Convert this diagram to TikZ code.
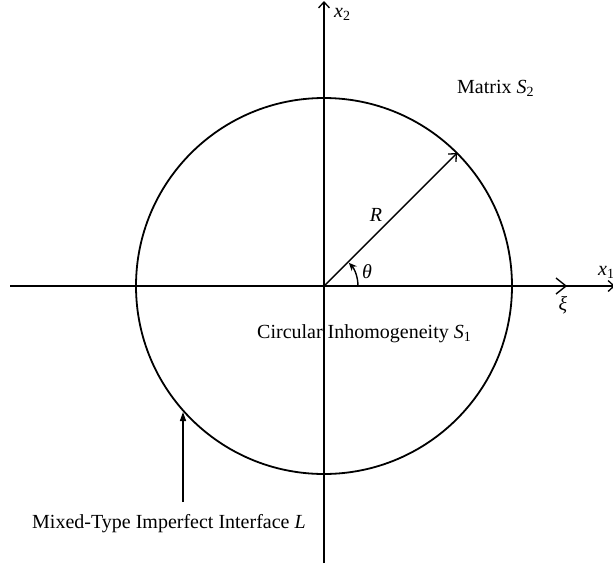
\documentclass[tikz,border=0pt]{standalone}
\usepackage{fontspec}
\setmainfont{Liberation Serif}
\usetikzlibrary{arrows.meta,calc}
\tikzset{
  axis/.style={line width=1.4pt,-{Straight Barb[length=6pt,width=11pt,line width=1.3pt]}},
  lbl/.style={font=\fontsize{20}{24}\selectfont, inner sep=0pt},
  leader/.style={line width=1.4pt,-{Triangle[length=9pt,width=6pt]}},
}
\begin{document}
\begin{tikzpicture}[x=1pt,y=-1pt]
\useasboundingbox (0,0) rectangle (613,566);
\fill[white] (0,0) rectangle (613,566);
\coordinate (O) at (324,286);
\coordinate (W) at (10,286);
\coordinate (E) at (615,286);
\coordinate (S) at (324,563);
\coordinate (N) at (324,1);
\draw[axis] (W) -- (E);
\draw[axis] (S) -- (N);
\node[draw,circle,line width=1.8pt,minimum size=376pt,inner sep=0pt] (C) at (O) {};
% radius R
\coordinate (Rt) at (457,153);
\draw[line width=1.4pt,-{Straight Barb[length=6pt,width=11pt,line width=1.3pt]}] (O) -- (Rt);
% theta arc
\draw[line width=1.4pt,-{Stealth[length=8pt,width=7pt]}] (358,286) arc[start angle=0,end angle=-43,radius=34];
% xi tick
\coordinate (Xi) at (566,286);
\draw[line width=1.4pt] ($(Xi)+(-10,-8)$) -- (Xi) -- ($(Xi)+(-10,8)$);
% leader
\coordinate (Lb) at (183,502);
\coordinate (Lt) at (183,412);
\draw[leader] (Lb) -- (Lt);
% labels
\node[lbl,anchor=base west] (x2) at (334,17) {\textit{x}\textsubscript{2}};
\node[lbl,anchor=base west] (x1) at (598,275) {\textit{x}\textsubscript{1}};
\node[lbl] (xil) at (563,305) {\textit{ξ}};
\node[lbl] (th) at (367,272) {\textit{θ}};
\node[lbl] (Rl) at (376,215) {\textit{R}};
\node[lbl,anchor=base west] (mat) at (457,93) {Matrix \textit{S}\textsubscript{2}};
\node[lbl,anchor=base west] (inh) at (257,338) {Circular Inhomogeneity \textit{S}\textsubscript{1}};
\node[lbl,anchor=base west] (mix) at (32,528) {Mixed-Type Imperfect Interface \textit{L}};
\end{tikzpicture}
\end{document}
